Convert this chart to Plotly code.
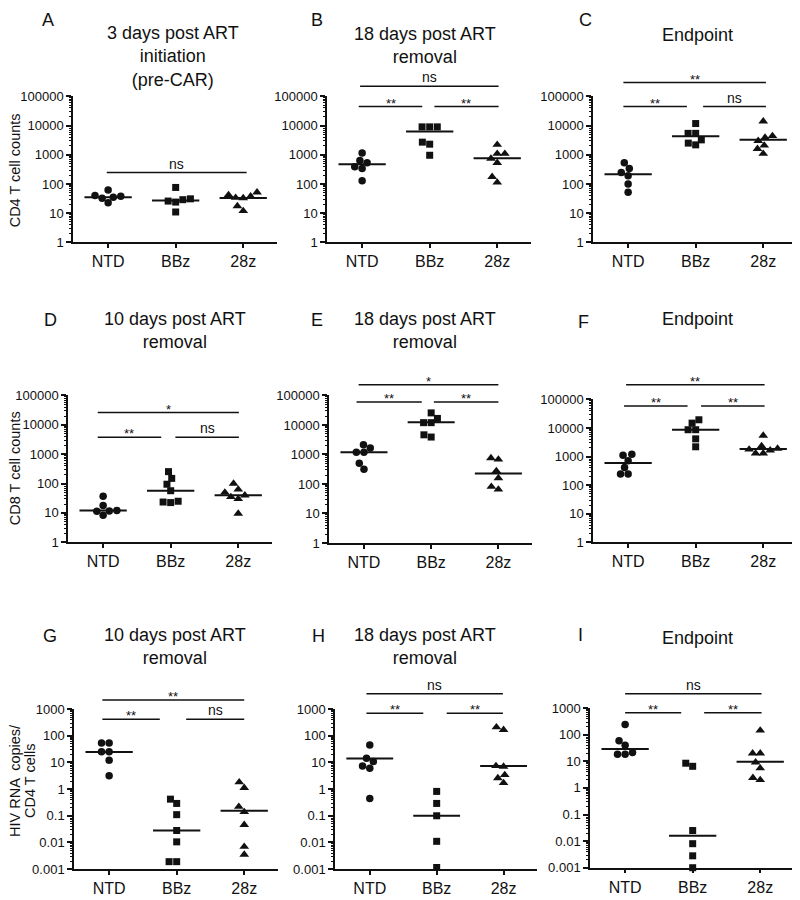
import math
import plotly.graph_objects as go

# ---------------- data ----------------
groups = ["NTD", "BBz", "28z"]

# Row 1: CD4 T cell counts
A_NTD = [40, 32.6, 62, 22.7, 35, 38]
A_BBz = [76, 31, 29, 26, 24, 11]
A_28z = [42, 33, 34, 38, 52, 17.5, 12]
A_median = [35, 27, 33]

B_NTD = [635, 1150, 390, 340, 530, 128]
B_BBz = [9000, 9000, 9000, 2700, 2300, 960]
B_28z = [2200, 740, 1090, 1090, 530, 175, 113]
B_median = [470, 6200, 760]

C_NTD = [530, 245, 190, 340, 99, 52]
C_BBz = [11700, 5400, 5400, 3230, 2180, 2500]
C_28z = [14000, 3870, 4400, 2990, 2090, 1600, 1090]
C_median = [215, 4300, 3250]

# Row 2: CD8 T cell counts
D_NTD = [37, 11.7, 18, 8.3, 11.5, 12.2]
D_BBz = [255, 150, 95, 57, 25, 22.5, 23.5]
D_28z = [100, 63, 50, 40, 35, 30, 9.5]
D_median = [12, 57, 40]

E_NTD = [2150, 1200, 1200, 1660, 500, 316]
E_BBz = [25700, 12000, 12000, 16700, 4640, 3900]
E_28z = [680, 760, 277, 158, 65, 81]
E_median = [1200, 12300, 225]

F_NTD = [1110, 1200, 710, 417, 245, 245]
F_BBz = [19400, 14800, 8700, 8700, 4170, 2200]
F_28z = [5450, 1900, 1660, 1300, 1300, 1780, 2340]
F_median = [590, 8700, 1850]

# Row 3: HIV RNA copies / CD4 T cells
G_NTD = [54, 54, 25, 25, 12, 3.2]
G_BBz = [0.29, 0.42, 0.11, 0.028, 0.0105, 0.0019, 0.0019]
G_28z = [1.82, 1.12, 0.22, 0.14, 0.046, 0.0069, 0.0035]
G_median = [24.5, 0.028, 0.155]

H_NTD = [45, 14.4, 7.4, 6.1, 10.8, 0.44]
H_BBz = [0.82, 0.29, 0.1, 0.011, 0.00115]
H_28z = [168, 210, 7.4, 7.0, 3.4, 2.6, 1.7]
H_median = [14, 0.1, 7.4]

I_NTD = [240, 59, 40, 21.5, 18.6, 18.6]
I_BBz = [6.5, 8.5, 0.025, 0.008, 0.0028, 0.001]
I_28z = [145, 20, 20, 9.2, 5.5, 2.0, 2.4]
I_median = [29, 0.016, 9.7]

titles = {
    "A": "3 days post ART<br>initiation<br>(pre-CAR)",
    "B": "18 days post ART<br>removal",
    "C": "Endpoint",
    "D": "10 days post ART<br>removal",
    "E": "18 days post ART<br>removal",
    "F": "Endpoint",
    "G": "10 days post ART<br>removal",
    "H": "18 days post ART<br>removal",
    "I": "Endpoint",
}

# significance brackets: (x from, x to, log10 level, label)
sig = {
    "A": [(-0.02, 2.05, 2.39, "ns")],
    "B": [(-0.03, 2.02, 5.34, "ns"), (-0.05, 0.89, 4.65, "**"), (1.07, 2.02, 4.65, "**")],
    "C": [(-0.07, 2.04, 5.47, "**"), (-0.07, 0.87, 4.65, "**"), (1.11, 2.04, 4.65, "ns")],
    "D": [(-0.08, 2.01, 4.42, "*"), (-0.08, 0.86, 3.58, "**"), (1.07, 2.01, 3.58, "ns")],
    "E": [(-0.08, 2.0, 5.36, "*"), (-0.11, 0.86, 4.78, "**"), (1.04, 2.0, 4.78, "**")],
    "F": [(-0.03, 2.02, 5.51, "**"), (-0.06, 0.88, 4.77, "**"), (1.08, 2.02, 4.77, "**")],
    "G": [(-0.1, 2.0, 3.34, "**"), (-0.1, 0.75, 2.62, "**"), (1.14, 2.0, 2.62, "ns")],
    "H": [(-0.05, 1.99, 3.58, "ns"), (-0.05, 0.8, 2.85, "**"), (1.15, 1.99, 2.85, "**")],
    "I": [(0.0, 2.02, 3.54, "ns"), (0.0, 0.83, 2.83, "**"), (1.17, 2.02, 2.83, "**")],
}

# ---------------- layout geometry (screen pixels) ----------------
OFF = 8                      # page margin in front of the figure
FW, FH = 800 - OFF, 900 - OFF


def fx(px):
    return (px - OFF) / FW


def fy(py):
    return 1 - (py - OFF) / FH


# panel: (x_left, x_right, y_top, y_bottom) of the plotting area
boxes = {
    "A": (73, 277, 90.7, 239.3), "B": (327, 531, 90.7, 239.3), "C": (593, 797, 90.7, 239.3),
    "D": (68, 272, 395, 544.3), "E": (329, 532, 395, 545), "F": (593, 797, 399, 544.3),
    "G": (74, 278, 714, 876.7), "H": (335, 537, 714, 876.7), "I": (590, 794, 713, 875.3),
}
yranges = {k: ((0, 5) if k in "ABCDEF" else (-3, 3)) for k in boxes}
title_pos = {  # centre x, centre y of title block
    "A": (173, 50), "B": (425, 39), "C": (697, 28),
    "D": (175, 329), "E": (425, 329), "F": (697, 317),
    "G": (175, 650), "H": (425, 650), "I": (697, 642),
}
letter_pos = {
    "A": (48, 13), "B": (317, 13), "C": (585, 13),
    "D": (50, 318), "E": (317, 318), "F": (583, 320),
    "G": (50, 640), "H": (318, 640), "I": (580, 639),
}
XR = (-0.52, 2.5)
FONT = "Liberation Sans, Arial, sans-serif"
INK = "#111111"

data = {
    "A": (A_NTD, A_BBz, A_28z, A_median), "B": (B_NTD, B_BBz, B_28z, B_median),
    "C": (C_NTD, C_BBz, C_28z, C_median), "D": (D_NTD, D_BBz, D_28z, D_median),
    "E": (E_NTD, E_BBz, E_28z, E_median), "F": (F_NTD, F_BBz, F_28z, F_median),
    "G": (G_NTD, G_BBz, G_28z, G_median), "H": (H_NTD, H_BBz, H_28z, H_median),
    "I": (I_NTD, I_BBz, I_28z, I_median),
}
symbols = ["circle", "square", "triangle-up"]
msizes = [7.5, 7, 8.5]


def swarm(vals, px_dec, px_unit, diam=7.6):
    """Beeswarm offsets (category units) so markers do not overlap."""
    ys = [math.log10(v) * px_dec for v in vals]
    order = sorted(range(len(vals)), key=lambda i: ys[i])
    placed, xs = [], [0.0] * len(vals)
    for i in order:
        y = ys[i]
        forb = []
        for xj, yj in placed:
            dy = abs(y - yj)
            if dy < diam:
                w = math.sqrt(diam ** 2 - dy ** 2)
                forb.append((xj - w, xj + w))
        cands = [0.0] + [a for a, b in forb] + [b for a, b in forb]
        valid = [c for c in cands if all(not (a + 1e-9 < c < b - 1e-9) for a, b in forb)]
        best = min(valid, key=lambda c: (round(abs(c), 6), c))
        xs[i] = best
        placed.append((best, y))
    return [x / px_unit for x in xs]


fig = go.Figure()
annotations, shapes = [], []
layout = {}

for n, key in enumerate("ABCDEFGHI", start=1):
    xl, xr, yt, yb = boxes[key]
    lo, hi = yranges[key]
    sfx = "" if n == 1 else str(n)
    xname, yname = "x" + sfx, "y" + sfx
    px_unit = (xr - xl) / (XR[1] - XR[0])
    px_dec = (yb - yt) / (hi - lo)

    vals3 = data[key][:3]
    medians = data[key][3]
    for gi, vals in enumerate(vals3):
        offs = swarm(vals, px_dec, px_unit)
        fig.add_trace(go.Scatter(
            x=[gi + o for o in offs], y=vals, mode="markers", xaxis=xname, yaxis=yname,
            marker=dict(symbol=symbols[gi], size=msizes[gi], color=INK, line=dict(width=0)),
            cliponaxis=False, showlegend=False, hoverinfo="skip"))
        fig.add_trace(go.Scatter(
            x=[gi - 0.35, gi + 0.35], y=[medians[gi], medians[gi]], mode="lines",
            xaxis=xname, yaxis=yname, line=dict(color=INK, width=2),
            showlegend=False, hoverinfo="skip"))

    major = [10.0 ** d for d in range(lo, hi + 1)]
    major_txt = [str(int(v)) if v >= 1 else ("%.*f" % (-int(round(math.log10(v))), v)) for v in major]
    minor = [m * 10.0 ** d for d in range(lo, hi) for m in range(2, 10)]

    layout["xaxis" + sfx] = dict(
        domain=[fx(xl), fx(xr)], anchor=yname, range=list(XR),
        tickmode="array", tickvals=[0, 1, 2], ticktext=groups,
        ticks="outside", ticklen=4, tickwidth=1.5, tickcolor=INK,
        showline=True, linecolor=INK, linewidth=1.5, showgrid=False, zeroline=False,
        tickfont=dict(family=FONT, size=16, color=INK), fixedrange=True)
    layout["yaxis" + sfx] = dict(
        domain=[fy(yb), fy(yt)], anchor=xname, type="log", range=[lo, hi],
        tickmode="array", tickvals=major, ticktext=major_txt,
        ticks="outside", ticklen=5, tickwidth=1.5, tickcolor=INK,
        minor=dict(tickmode="array", tickvals=minor, ticks="outside", ticklen=2.5,
                   tickwidth=1, tickcolor=INK, showgrid=False),
        showline=True, linecolor=INK, linewidth=1.5, showgrid=False, zeroline=False,
        tickfont=dict(family=FONT, size=13, color=INK), fixedrange=True)

    # significance brackets
    for x0, x1, lev, lab in sig[key]:
        frac = (lev - lo) / (hi - lo)
        shapes.append(dict(type="line", xref=xname, yref=yname + " domain",
                           x0=x0, x1=x1, y0=frac, y1=frac,
                           line=dict(color=INK, width=1.5)))
        annotations.append(dict(
            x=(x0 + x1) / 2, y=frac, xref=xname, yref=yname + " domain",
            text=lab, showarrow=False, xanchor="center", yanchor="bottom",
            yshift=(-6 if "*" in lab else -1),
            font=dict(family=FONT, size=(13 if "*" in lab else 14), color=INK)))

    # title and panel letter
    tx, ty = title_pos[key]
    annotations.append(dict(x=fx(tx), y=fy(ty), xref="paper", yref="paper",
                            text=titles[key], showarrow=False, xanchor="center",
                            yanchor="middle", align="center",
                            font=dict(family=FONT, size=18, color=INK)))
    lx, ly = letter_pos[key]
    annotations.append(dict(x=fx(lx), y=fy(ly), xref="paper", yref="paper",
                            text=key, showarrow=False, xanchor="center", yanchor="middle",
                            font=dict(family=FONT, size=18, color=INK)))

# y-axis titles (kept inside the drawable page area, clear of tick labels)
for txt, x, y in [("CD4 T cell counts", 15, 166), ("CD8 T cell counts", 15, 469),
                  ("HIV RNA  copies/", 15, 787), ("CD4 T cells", 30, 787)]:
    annotations.append(dict(x=fx(x), y=fy(y), xref="paper", yref="paper", text=txt,
                            textangle=-90, showarrow=False, xanchor="center",
                            yanchor="middle", font=dict(family=FONT, size=14.5, color=INK)))

fig.update_layout(
    width=FW, height=FH, margin=dict(l=0, r=0, t=0, b=0),
    paper_bgcolor="white", plot_bgcolor="white", showlegend=False,
    annotations=annotations, shapes=shapes, **layout)

fig.write_html("out.html")
